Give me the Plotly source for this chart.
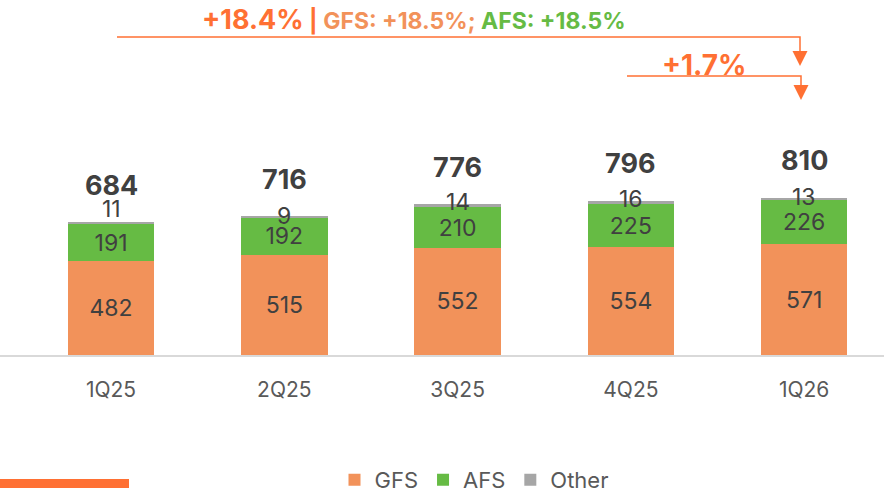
import plotly.graph_objects as go

# ---- data ----
categories = ["1Q25", "2Q25", "3Q25", "4Q25", "1Q26"]
gfs = [482, 515, 552, 554, 571]
afs = [191, 192, 210, 225, 226]
other = [11, 9, 14, 16, 13]
totals = [684, 716, 776, 796, 810]
legend_names = ["GFS", "AFS", "Other"]

# ---- styles ----
C_GFS = "#F2925A"
C_AFS = "#66BB44"
C_OTH = "#A6A6A6"
C_ORANGE = "#FF7033"
C_TXT = "#404040"
FONT = "Inter, 'Noto Sans', sans-serif"
other_label_shift = [13, 0, 2, 2, 1]

W, H = 884, 494
PLOT_TOP, PLOT_BOT = 100, 355


def px(x):
    return x / W


def py(y):
    return (PLOT_BOT - y) / (PLOT_BOT - PLOT_TOP)


fig = go.Figure()
fig.add_bar(x=categories, y=gfs, name=legend_names[0], marker_color=C_GFS,
            text=gfs, textposition="inside", insidetextanchor="middle",
            textfont=dict(size=23, color=C_TXT, family=FONT), width=0.5,
            marker_line_width=0)
fig.add_bar(x=categories, y=afs, name=legend_names[1], marker_color=C_AFS,
            text=afs, textposition="inside", insidetextanchor="middle",
            textfont=dict(size=23, color=C_TXT, family=FONT), width=0.5,
            marker_line_width=0)
fig.add_bar(x=categories, y=other, name=legend_names[2], marker_color=C_OTH,
            width=0.5, marker_line_width=0, textposition="none")

annotations = []
for i, c in enumerate(categories):
    annotations.append(dict(x=c, y=totals[i], xref="x", yref="y", text=f"<b>{totals[i]}</b>",
                            showarrow=False, yanchor="middle", yshift=37,
                            font=dict(size=27, color=C_TXT, family=FONT)))
    annotations.append(dict(x=c, y=totals[i], xref="x", yref="y", text=str(other[i]),
                            showarrow=False, yanchor="middle", yshift=other_label_shift[i],
                            font=dict(size=23, color=C_TXT, family=FONT)))

# top growth annotations
annotations.append(dict(
    x=px(200), y=py(19), xref="paper", yref="paper", xanchor="left", yanchor="middle",
    showarrow=False,
    text=(f"<b><span style='color:{C_ORANGE};font-size:27px'>+18.4%</span>"
          f"<span style='color:{C_ORANGE};font-size:23px'> | </span>"
          f"<span style='color:{C_GFS};font-size:23px'>GFS: +18.5%; </span>"
          f"<span style='color:{C_AFS};font-size:23px'>AFS: +18.5%</span></b>"),
    font=dict(family=FONT, size=23)))
annotations.append(dict(
    x=px(704), y=py(65), xref="paper", yref="paper", xanchor="center", yanchor="middle",
    showarrow=False, text="<b>+1.7%</b>",
    font=dict(family=FONT, size=28, color=C_ORANGE)))

shapes = []


def arrow(x0, y0, x1, tip_y):
    shapes.append(dict(type="path", xref="paper", yref="paper",
                       path=f"M {px(x0)},{py(y0)} L {px(x1)},{py(y0)} L {px(x1)},{py(tip_y - 12)}",
                       line=dict(color=C_ORANGE, width=1.5)))
    shapes.append(dict(type="path", xref="paper", yref="paper",
                       path=(f"M {px(x1 - 7.5)},{py(tip_y - 15)} L {px(x1 + 7.5)},{py(tip_y - 15)} "
                             f"L {px(x1)},{py(tip_y)} Z"),
                       fillcolor=C_ORANGE, line=dict(width=0)))


arrow(117, 37, 800, 66)
arrow(627, 76, 801, 100)

# bottom-left orange strip
shapes.append(dict(type="rect", xref="paper", yref="paper",
                   x0=px(0), x1=px(129), y0=py(488), y1=py(479),
                   fillcolor=C_ORANGE, line=dict(width=0)))

fig.update_layout(
    width=W, height=H,
    barmode="stack",
    plot_bgcolor="white", paper_bgcolor="white",
    margin=dict(l=0, r=0, t=PLOT_TOP, b=H - PLOT_BOT, autoexpand=False),
    font=dict(family=FONT, color=C_TXT),
    showlegend=True,
    legend=dict(orientation="h", x=px(474), xanchor="center", y=py(480), yanchor="middle",
                font=dict(size=22, color="#595959", family=FONT),
                traceorder="normal", itemclick=False, bgcolor="rgba(0,0,0,0)"),
    annotations=annotations,
    shapes=shapes,
    uniformtext=dict(mode="show", minsize=10),
)
fig.update_xaxes(type="category", range=[-0.641, 4.461], showline=True, linecolor="#D9D9D9",
                 linewidth=2, showgrid=False, zeroline=False, ticks="", automargin=False,
                 tickfont=dict(size=21, color="#595959", family=FONT), ticklabelstandoff=15)
fig.update_yaxes(range=[0, 1314], visible=False, showgrid=False, zeroline=False)

fig.write_html("out.html", config={"displayModeBar": False},
               post_script="document.body.style.margin='0px';document.body.style.overflow='hidden';")
